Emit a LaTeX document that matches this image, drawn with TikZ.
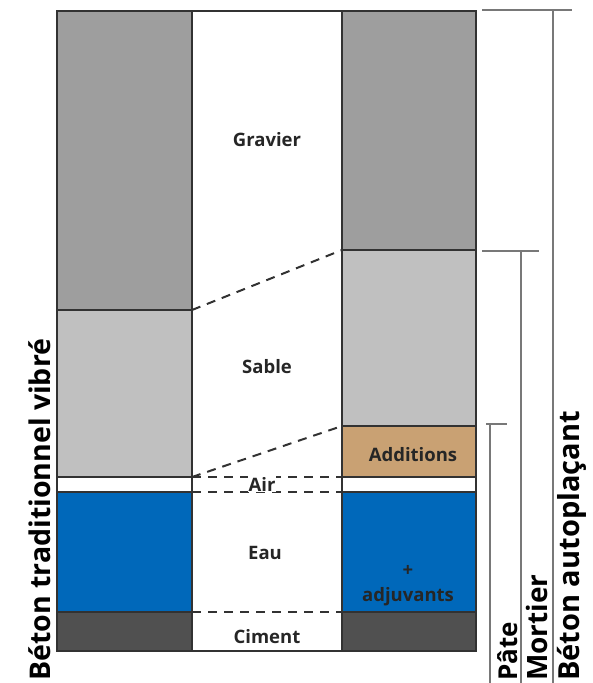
\documentclass[tikz,border=0pt]{standalone}
\usepackage{fontspec}
\setmainfont{Open Sans}
\usetikzlibrary{positioning}

\definecolor{gravier}{RGB}{158,158,158}
\definecolor{sable}{RGB}{192,192,192}
\definecolor{eau}{RGB}{0,104,186}
\definecolor{ciment}{RGB}{80,80,80}
\definecolor{additions}{RGB}{201,161,115}
\definecolor{cadre}{RGB}{50,50,50}
\definecolor{trait}{RGB}{120,120,120}

\tikzset{
  couche/.style={draw=cadre, line width=1.6pt},
  liaison/.style={cadre, line width=2pt, dash pattern=on 9pt off 7pt},
  accolade/.style={trait, line width=1.8pt},
  lbl/.style={text=black!85, font=\bfseries\fontsize{18.5}{20}\selectfont},
  grandlbl/.style={rotate=90, anchor=base west, inner sep=0pt, text=black,
    font=\bfseries\fontsize{28.5}{30}\selectfont}
}

\begin{document}
\begin{tikzpicture}[x=1pt, y=-1pt]
\useasboundingbox (0,0) rectangle (593,683);

% beton traditionnel vibre (gauche)
\draw[couche, fill=gravier] (57,11) rectangle (192,310);
\draw[couche, fill=sable] (57,310) rectangle (192,477);
\draw[couche, fill=white] (57,477) rectangle (192,492);
\draw[couche, fill=eau] (57,492) rectangle (192,612);
\draw[couche, fill=ciment] (57,612) rectangle (192,651);

% beton autoplacant (droite)
\draw[couche, fill=gravier] (342,11) rectangle (476,250);
\draw[couche, fill=sable] (342,250) rectangle (476,426);
\draw[couche, fill=additions] (342,426) rectangle (476,477);
\draw[couche, fill=white] (342,477) rectangle (476,492);
\draw[couche, fill=eau] (342,492) rectangle (476,612);
\draw[couche, fill=ciment] (342,612) rectangle (476,651);

% cadre colonne centrale
\draw[couche] (192,11) -- (342,11);
\draw[couche] (192,651) -- (342,651);

% limites des couches
\coordinate (G1) at (192,310);
\coordinate (G2) at (342,250);
\coordinate (S1) at (192,477);
\coordinate (S2) at (342,426);
\coordinate (A1) at (192,477);
\coordinate (A2) at (342,477);
\coordinate (E1) at (192,492);
\coordinate (E2) at (342,492);
\coordinate (C1) at (192,612);
\coordinate (C2) at (342,612);

\draw[liaison] (G1) -- (G2);
\draw[liaison] (S1) -- (S2);
\draw[liaison] (A1) -- (A2);
\draw[liaison] (E1) -- (E2);
\draw[liaison] (C1) -- (C2);

\node[lbl] (gravier) at (267,140) {Gravier};
\node[lbl] (sable) at (267,367) {Sable};
\node[lbl, fill=white, inner sep=0.5pt] (air) at (262,484) {Air};
\node[lbl] (eau) at (265,553) {Eau};
\node[lbl] (ciment) at (267,637) {Ciment};
\node[lbl] (additions) at (413,455) {Additions};
\node[lbl] (plus) at (408,571) {+};
\node[lbl] (adjuvants) at (408,597) {adjuvants};

% accolades
\draw[accolade] (482,10) -- (572,10);
\draw[accolade] (553,10) -- (553,683);
\draw[accolade] (482,251) -- (539,251);
\draw[accolade] (521,251) -- (521,683);
\draw[accolade] (486,424) -- (507,424);
\draw[accolade] (490,424) -- (490,683);

\node[grandlbl] (tradi) at (50,681) {Béton traditionnel vibré};
\node[grandlbl, font=\bfseries\fontsize{26}{28}\selectfont] (pate) at (517,681) {Pâte};
\node[grandlbl, font=\bfseries\fontsize{28}{30}\selectfont] (mortier) at (547,681) {Mortier};
\node[grandlbl, font=\bfseries\fontsize{29}{30}\selectfont] (autopl) at (579,681) {Béton autoplaçant};

\end{tikzpicture}
\end{document}
